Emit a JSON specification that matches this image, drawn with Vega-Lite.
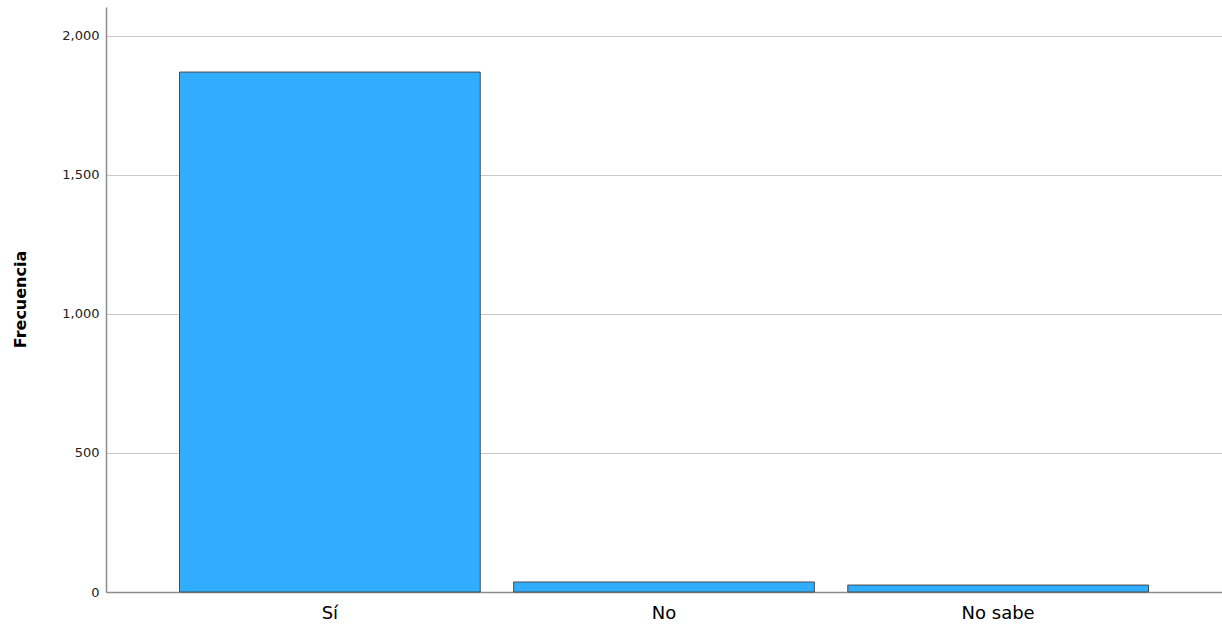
{
  "$schema": "https://vega.github.io/schema/vega-lite/v6.json",
  "autosize": "none",
  "padding": {"left": 106, "top": 7, "right": 0, "bottom": 40},
  "width": 1116,
  "height": 585,
  "background": "white",
  "data": {"values": [
    {"respuesta": "Sí", "frecuencia": 1870},
    {"respuesta": "No", "frecuencia": 36},
    {"respuesta": "No sabe", "frecuencia": 25}
  ]},
  "mark": {"type": "bar", "fill": "#31adff", "stroke": "#4a4a4a", "strokeWidth": 1},
  "encoding": {
    "x": {
      "field": "respuesta", "type": "nominal", "sort": null,
      "scale": {"paddingInner": 0.1, "paddingOuter": 0.22},
      "axis": {"title": null, "labelAngle": 0, "labelFont": "DejaVu Sans", "labelFontSize": 18, "labelColor": "#000", "labelPadding": 12, "ticks": false, "domainColor": "#8c8c8c", "domainWidth": 1.5, "grid": false}
    },
    "y": {
      "field": "frecuencia", "type": "quantitative",
      "scale": {"domain": [0, 2104], "nice": false, "zero": true},
      "axis": {"title": "Frecuencia", "titleFont": "DejaVu Sans", "titleFontSize": 16, "titleFontWeight": "bold", "titleColor": "#000",
        "titleX": -86, "titleY": 292, "titleAngle": -90, "titleAlign": "center", "titleBaseline": "middle",
        "values": [0, 500, 1000, 1500, 2000], "format": ",.0f", "labelFont": "DejaVu Sans", "labelFontSize": 13, "labelColor": "#222", "labelPadding": 7, "ticks": false,
        "domainColor": "#8c8c8c", "domainWidth": 1.5, "grid": true, "gridColor": "#c8c8c8", "gridWidth": 1}
    }
  },
  "config": {"view": {"stroke": null}}
}
